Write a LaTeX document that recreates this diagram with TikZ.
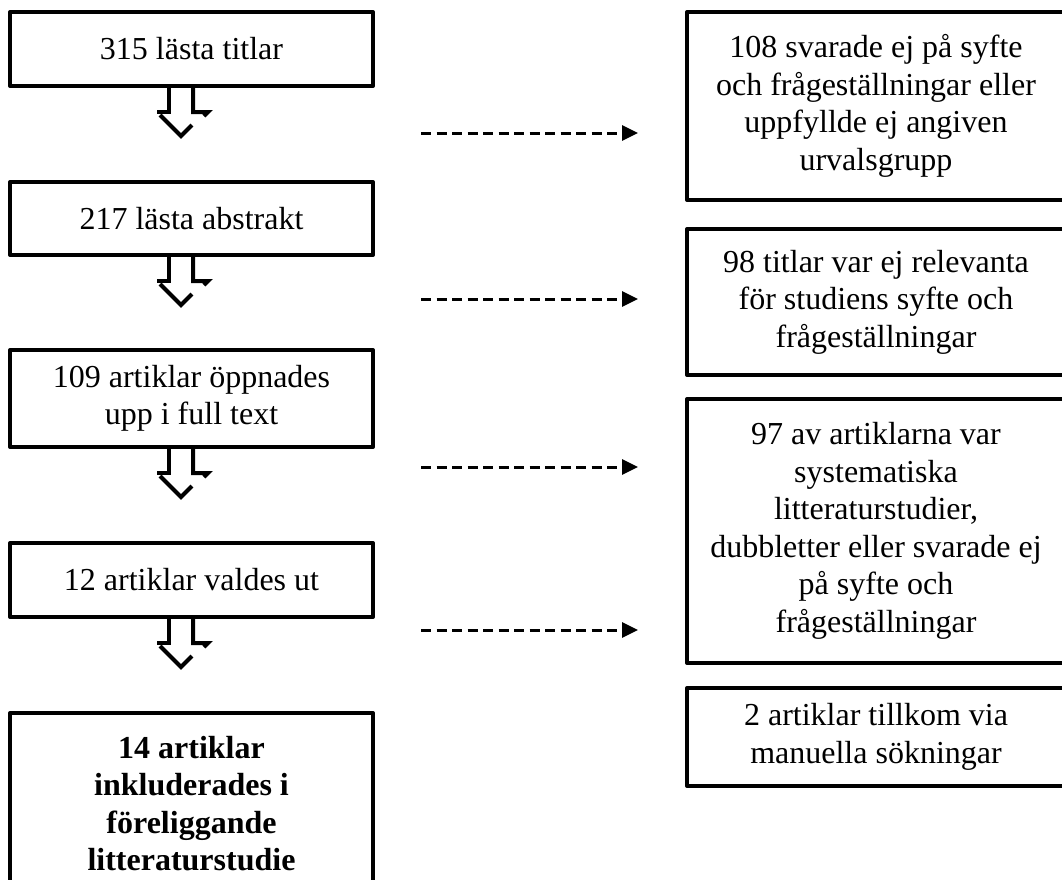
\documentclass[tikz,border=0pt]{standalone}
\usepackage{fontspec}
\setmainfont{Liberation Serif}
\usetikzlibrary{arrows.meta}

\tikzset{
  stepbox/.style={shape=rectangle,draw=black,line width=4pt,line join=round,
    align=center,font=\fontsize{32}{37.5}\selectfont,inner sep=0pt},
  leftbox/.style={stepbox,minimum width=363pt},
  rightbox/.style={stepbox,minimum width=378pt},
  dasharrow/.style={line width=3pt,dash pattern=on 10pt off 5.5pt,
    -{Triangle[length=16pt,width=15pt]}},
  hollowarrow/.style={line width=4pt,line join=miter}
}

% broken hollow arrow under a box
\newcommand{\downarrowblock}[1]{%
  \draw[hollowarrow] ([shift={(-22.5,0)}]#1.south) -- ++(0,24) -- ++(-12,0);
  \draw[hollowarrow] ([shift={(1.5,0)}]#1.south) -- ++(0,24) -- ++(15,0) -- ++(-4,4);
  \draw[hollowarrow] ([shift={(-31.5,27)}]#1.south) -- ++(21,21) -- ++(11,-11);}

\begin{document}
\begin{tikzpicture}[x=1pt,y=-1pt]
        \clip (0,0) rectangle (1062,879);
        \fill[white] (0,0) rectangle (1062,879);
        % left column
        \node[leftbox,minimum height=74pt](b1) at (191.5,49) {315 lästa titlar};
        \node[leftbox,minimum height=73pt](b2) at (191.5,218.5) {217 lästa abstrakt};
        \node[leftbox,minimum height=97pt](b3) at (191.5,398.5) {109 artiklar öppnades\\upp i full text};
        \node[leftbox,minimum height=74pt](b4) at (191.5,580) {12 artiklar valdes ut};
        \node[leftbox,minimum height=181pt,font=\fontsize{32}{37.5}\selectfont\bfseries](b5) at (191.5,803.5) {14 artiklar\\inkluderades i\\föreliggande\\litteraturstudie};
        % right column
        \node[rightbox,minimum height=188pt](r1) at (876,106) {108 svarade ej på syfte\\och frågeställningar eller\\uppfyllde ej angiven\\urvalsgrupp};
        \node[rightbox,minimum height=146pt](r2) at (876,302) {98 titlar var ej relevanta\\för studiens syfte och\\frågeställningar};
        \node[rightbox,minimum height=264pt](r3) at (876,531) {97 av artiklarna var\\systematiska\\litteraturstudier,\\dubbletter eller svarade ej\\på syfte och\\frågeställningar};
        \node[rightbox,minimum height=98pt](r4) at (876,737) {2 artiklar tillkom via\\manuella sökningar};
        % block arrows
        \downarrowblock{b1}
        \downarrowblock{b2}
        \downarrowblock{b3}
        \downarrowblock{b4}
        % dashed arrows
        \coordinate (d1s) at (421,133);
        \coordinate (d1e) at (638,133);
        \coordinate (d2s) at (421,299);
        \coordinate (d2e) at (638,299);
        \coordinate (d3s) at (421,467);
        \coordinate (d3e) at (638,467);
        \coordinate (d4s) at (421,630);
        \coordinate (d4e) at (638,630);
        \path [dasharrow] (d1s) edge (d1e);
        \path [dasharrow] (d2s) edge (d2e);
        \path [dasharrow] (d3s) edge (d3e);
        \path [dasharrow] (d4s) edge (d4e);
    \end{tikzpicture}
\end{document}
